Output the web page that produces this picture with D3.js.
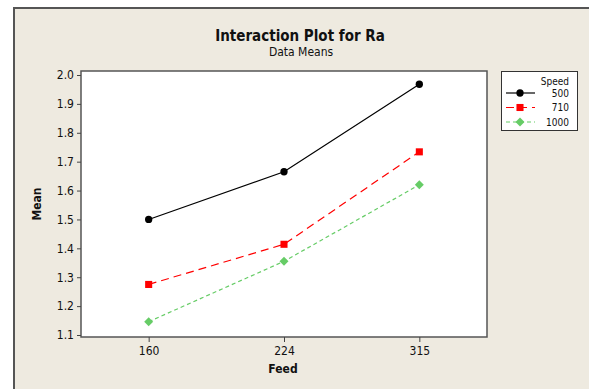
<!DOCTYPE html>
<html>
<head>
<meta charset="utf-8">
<script src="https://cdn.jsdelivr.net/npm/d3@7"></script>
<style>
  body { margin: 0; background: #fff; }
  text { font-family: "DejaVu Sans Condensed", "DejaVu Sans", sans-serif; fill: #111; }
</style>
</head>
<body>
<svg id="chart" width="589" height="389"></svg>
<script>
const feeds = ["160", "224", "315"];
const speeds = ["500", "710", "1000"];
const mean500 = [1.50, 1.665, 1.968];
const mean710 = [1.275, 1.414, 1.734];
const mean1000 = [1.146, 1.355, 1.62];
const yTicks = [1.1, 1.2, 1.3, 1.4, 1.5, 1.6, 1.7, 1.8, 1.9, 2.0];

// diamonds are drawn as squares turned by 45 degrees
const series = [
  { name: speeds[0], values: mean500, color: "#000", dash: null, shape: d3.symbolCircle, size: 42, rot: 0 },
  { name: speeds[1], values: mean710, color: "#ff0000", dash: "8,5", shape: d3.symbolSquare, size: 50, rot: 0 },
  { name: speeds[2], values: mean1000, color: "#66cc66", dash: "4,3", shape: d3.symbolSquare, size: 40, rot: 45 }
];

const svg = d3.select("#chart");
const plot = { left: 81, top: 71, right: 487, bottom: 337 };

// frame
svg.append("rect")
  .attr("x", 14).attr("y", 8).attr("width", 580).attr("height", 390)
  .attr("fill", "#eeeae0").attr("stroke", "#555").attr("stroke-width", 2);

svg.append("text").attr("x", 300).attr("y", 41)
  .attr("text-anchor", "middle").attr("font-weight", "bold")
  .attr("style", "font-size: 15px").text("Interaction Plot for Ra");
svg.append("text").attr("x", 301).attr("y", 56)
  .attr("text-anchor", "middle").attr("style", "font-size: 12px").text("Data Means");

const x = d3.scalePoint().domain(feeds).range([plot.left, plot.right]).padding(0.5);
const y = d3.scaleLinear().domain([1.1, 2.0]).range([335, 75]);

svg.append("rect")
  .attr("x", plot.left).attr("y", plot.top)
  .attr("width", plot.right - plot.left).attr("height", plot.bottom - plot.top)
  .attr("fill", "#fff").attr("stroke", "#555").attr("stroke-width", 1.5);

const yAxis = svg.append("g")
  .attr("transform", `translate(${plot.left},0)`)
  .call(d3.axisLeft(y).tickValues(yTicks).tickFormat(d3.format(".1f")).tickSize(4).tickPadding(3));
const xAxis = svg.append("g")
  .attr("transform", `translate(0,${plot.bottom})`)
  .call(d3.axisBottom(x).tickSize(5).tickPadding(4));
[yAxis, xAxis].forEach(g => {
  g.select(".domain").remove();
  g.selectAll(".tick line").attr("stroke", "#444");
  g.selectAll(".tick text").attr("style", "font-size: 12px").attr("fill", "#111");
});

svg.append("text").attr("x", 283).attr("y", 373)
  .attr("text-anchor", "middle").attr("font-weight", "bold")
  .attr("style", "font-size: 12px").text("Feed");
svg.append("text")
  .attr("transform", `translate(41,${(plot.top + plot.bottom) / 2}) rotate(-90)`)
  .attr("text-anchor", "middle").attr("font-weight", "bold")
  .attr("style", "font-size: 12px").text("Mean");

const line = d3.line().x((d, i) => x(feeds[i])).y(d => y(d));

series.forEach(s => {
  svg.append("path")
    .attr("d", line(s.values))
    .attr("fill", "none").attr("stroke", s.color).attr("stroke-width", 1.2)
    .attr("stroke-dasharray", s.dash);
  svg.append("g").selectAll("path").data(s.values).enter().append("path")
    .attr("d", d3.symbol().type(s.shape).size(s.size))
    .attr("transform", (d, i) => `translate(${x(feeds[i])},${y(d)}) rotate(${s.rot})`)
    .attr("fill", s.color);
});

// legend
const legend = svg.append("g");
legend.append("rect")
  .attr("x", 501.5).attr("y", 71.5).attr("width", 76).attr("height", 59)
  .attr("fill", "#fff").attr("stroke", "#333").attr("stroke-width", 1);
legend.append("text").attr("x", 569).attr("y", 85)
  .attr("text-anchor", "end").attr("style", "font-size: 10px").text("Speed");
series.forEach((s, i) => {
  const ly = 93 + i * 14.5;
  legend.append("line")
    .attr("x1", 506).attr("x2", 535).attr("y1", ly).attr("y2", ly)
    .attr("stroke", s.color).attr("stroke-width", 1.2).attr("stroke-dasharray", s.dash);
  legend.append("path")
    .attr("d", d3.symbol().type(s.shape).size(s.size))
    .attr("transform", `translate(520,${ly}) rotate(${s.rot})`).attr("fill", s.color);
  legend.append("text").attr("x", 569).attr("y", ly + 3.5)
    .attr("text-anchor", "end").attr("style", "font-size: 10px").text(s.name);
});
</script>
</body>
</html>
